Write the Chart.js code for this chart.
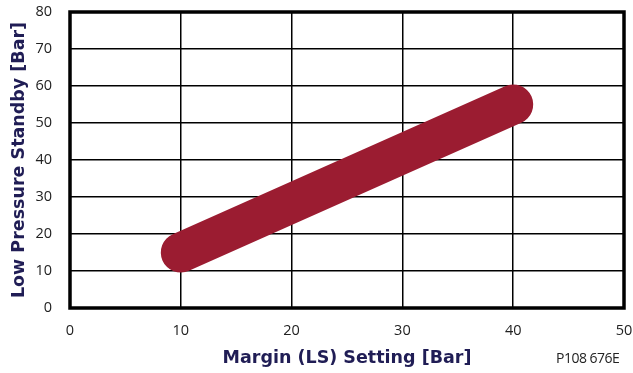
<!DOCTYPE html>
<html>
<head>
<meta charset="utf-8">
<script src="https://cdn.jsdelivr.net/npm/chart.js@4/dist/chart.umd.min.js"></script>
<style>
  html, body { margin: 0; padding: 0; background: #ffffff; }
  #wrap { position: relative; width: 633px; height: 373px; }
  #note { position: absolute; left: 556px; top: 348px; font: 14px "Open Sans", "Noto Sans", sans-serif; letter-spacing: -0.5px; color: #222; white-space: nowrap; }
</style>
</head>
<body>
<div id="wrap">
  <canvas id="c" width="633" height="373"></canvas>
  <div id="note">P108 676E</div>
</div>
<script>
const marginSetting = [10, 40];
const standbyPressure = [15, 55];
const xTicks = [0, 10, 20, 30, 40, 50];
const yTicks = [0, 10, 20, 30, 40, 50, 60, 70, 80];
const xTitle = 'Margin (LS) Setting [Bar]';
const yTitle = 'Low Pressure Standby [Bar]';

const titleColor = '#201d55';
const lineColor = '#9b1c31';

const frame = {
  id: 'frame',
  afterDraw(chart) {
    const { ctx, chartArea: a } = chart;
    ctx.save();
    ctx.strokeStyle = '#000';
    ctx.lineWidth = 3.5;
    ctx.strokeRect(a.left, a.top, a.right - a.left, a.bottom - a.top);
    ctx.restore();
  }
};

new Chart(document.getElementById('c'), {
  type: 'line',
  data: {
    datasets: [{
      data: marginSetting.map((x, i) => ({ x, y: standbyPressure[i] })),
      borderColor: lineColor,
      borderWidth: 40,
      borderCapStyle: 'round',
      pointRadius: 0,
      fill: false,
      clip: false
    }]
  },
  options: {
    responsive: false,
    animation: false,
    layout: { padding: { left: 0, top: 12, right: 9, bottom: 0 } },
    plugins: { legend: { display: false }, tooltip: { enabled: false } },
    scales: {
      x: {
        type: 'linear', min: 0, max: 50,
        afterBuildTicks: s => { s.ticks = xTicks.map(v => ({ value: v })); },
        afterFit: s => { s.height = 65; s.paddingLeft = 0; s.paddingRight = 0; },
        grid: { color: '#000', lineWidth: 1.5, drawTicks: false },
        border: { display: false },
        ticks: { color: '#222', font: { family: '"Open Sans", "Noto Sans", sans-serif', size: 14.5 }, padding: 14, maxRotation: 0 },
        title: { display: true, text: xTitle, color: titleColor, font: { family: '"DejaVu Sans", sans-serif', size: 17.5, weight: 'bold' }, padding: { top: 0, bottom: 4 } }
      },
      y: {
        type: 'linear', min: 0, max: 80,
        afterBuildTicks: s => { s.ticks = yTicks.map(v => ({ value: v })); },
        afterFit: s => { s.width = 70; s.paddingTop = 0; s.paddingBottom = 0; },
        grid: { color: '#000', lineWidth: 1.5, drawTicks: false },
        border: { display: false },
        ticks: { color: '#222', font: { family: '"Open Sans", "Noto Sans", sans-serif', size: 14.5 }, padding: 18 },
        title: { display: true, text: yTitle, color: titleColor, font: { family: '"DejaVu Sans", sans-serif', size: 17.5, weight: 'bold' }, padding: { top: 9, bottom: 0 } }
      }
    }
  },
  plugins: [frame]
});
</script>
</body>
</html>
